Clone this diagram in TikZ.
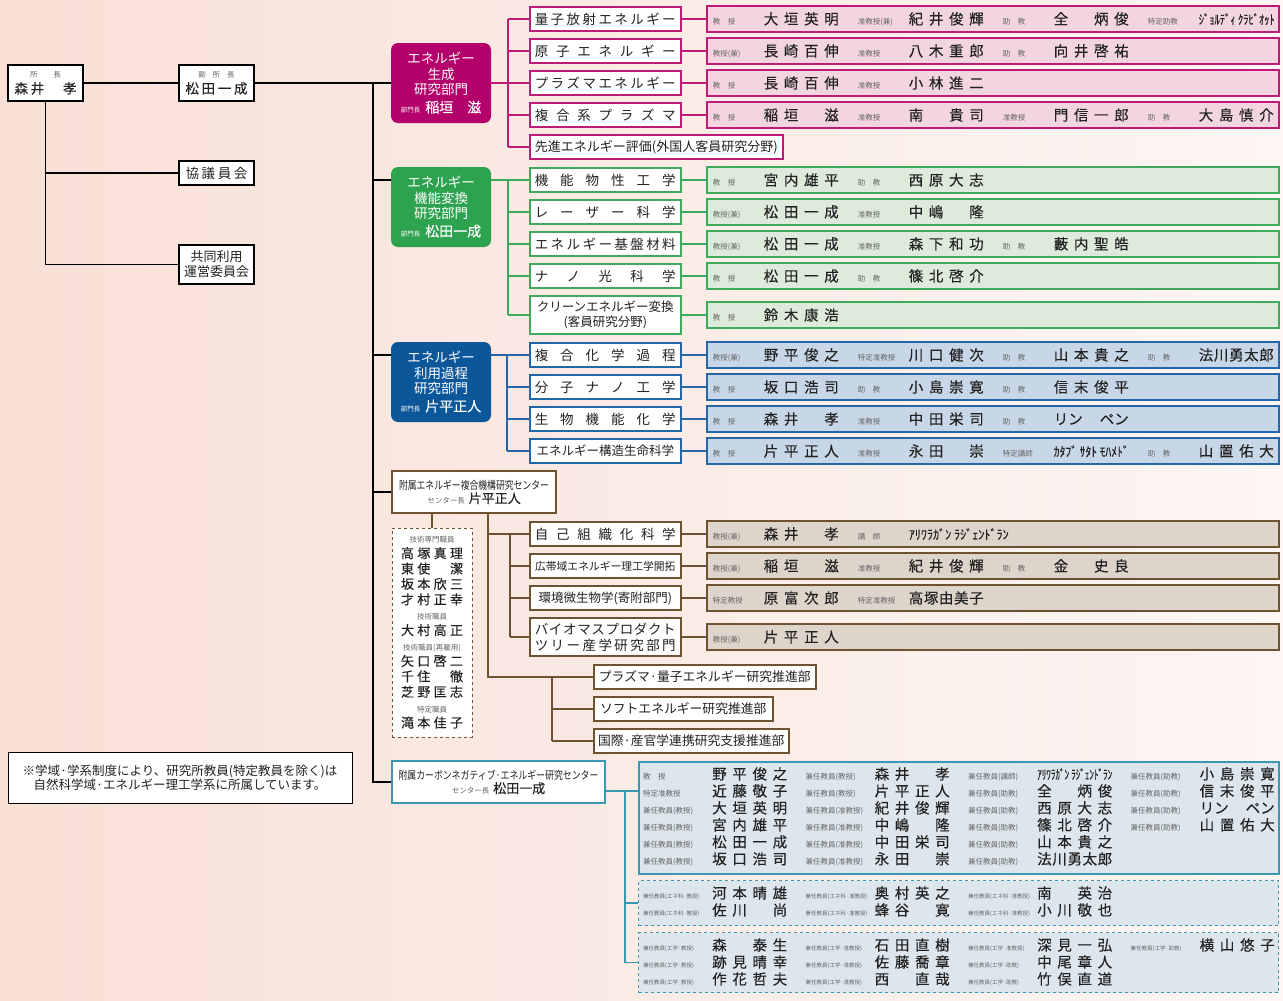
\documentclass[tikz,border=0pt]{standalone}
\usepackage{fontspec}
\setmainfont{Noto Sans CJK JP}
\newfontfamily\nmfam[FakeBold=0.25]{Noto Sans CJK JP}
\usepackage{graphicx}
\usetikzlibrary{calc}
\definecolor{mag}{HTML}{B4006A}
\definecolor{magl}{HTML}{BE1A7A}
\definecolor{magf}{HTML}{F3D4E1}
\definecolor{grn}{HTML}{2EA34F}
\definecolor{grnl}{HTML}{3DAA5C}
\definecolor{grnf}{HTML}{DEEBDB}
\definecolor{blu}{HTML}{0B5799}
\definecolor{blul}{HTML}{2466A8}
\definecolor{bluf}{HTML}{C8D7E7}
\definecolor{brn}{HTML}{6F5232}
\definecolor{brnf}{HTML}{DDD5CA}
\definecolor{tea}{HTML}{3A98B3}
\definecolor{teaf}{HTML}{DCE6EC}
\definecolor{labc}{HTML}{666666}
\definecolor{txt}{HTML}{222222}
\definecolor{bgl}{HTML}{F8E0D6}
\definecolor{bgr}{HTML}{FDF6F4}
\makeatletter
\def\spr@a#1{#1\futurelet\spr@n\spr@b}
\def\spr@b{\ifx\spr@n\spr@e\expandafter\@gobble\else\hfill\expandafter\spr@a\fi}
\def\spr@e{\spr@e}
\newcommand\spw[2]{\makebox[#1][s]{\spr@a#2\spr@e}}
\makeatother
\newcommand\nmf{\nmfam\fontsize{14.5}{16}\selectfont}
\newcommand\nm[1]{{\nmf\spw{75pt}{#1}}}
\newcommand\lab[1]{{\fontsize{7.5}{8}\selectfont\color{labc}#1}}
\newcommand\labs[1]{{\fontsize{5.5}{6}\selectfont\color{labc}#1}}
\newcommand\hwn[2]{{\nmfam\fontsize{13}{13}\selectfont\resizebox{#1}{\height}{#2}}}
\newcommand\lp{{\nmf\makebox[75pt][s]{リン\hfill ペン}}}
\newcommand\mc[2]{\makebox[51pt][l]{\lab{#1}}\nm{#2}\hspace{19pt}}
\newcommand\mcx[2]{\makebox[51pt][l]{\lab{#1}}\makebox[75pt][l]{#2}\hspace{19pt}}
\newcommand\cc[2]{\makebox[69pt][l]{\lab{#1}}\nm{#2}\hspace{18.5pt}}
\newcommand\ccx[2]{\makebox[69pt][l]{\lab{#1}}\makebox[75pt][l]{#2}\hspace{18.5pt}}
\newcommand\cd[2]{\makebox[69pt][l]{\labs{#1}}\nm{#2}\hspace{18.5pt}}
\newcommand\mrow[1]{\hspace{6pt}\makebox[566pt][l]{#1}}
\newcommand\crow[1]{\hspace{5pt}\makebox[635pt][l]{#1}}
\newcommand\tn[1]{{\nmfam\spw{62pt}{#1}}}
\newcommand\sw[1]{\spw{141pt}{#1}}
\tikzset{
 ln/.style={line width=1.4pt, draw=#1},
 divb/.style={fill=#1, rounded corners=7pt, minimum width=100pt, minimum height=80pt, text=white, align=center, inner sep=0pt, font=\fontsize{13.5}{15.5}\selectfont},
 subb/.style={draw=#1, fill=white, line width=1.5pt, minimum width=151pt, minimum height=24pt, inner sep=0pt, anchor=west, font=\fontsize{13.5}{16}\selectfont, text=txt},
 memb/.style 2 args={draw=#1, fill=#2, line width=1.5pt, minimum width=572pt, minimum height=26pt, inner sep=0pt, anchor=west, text=txt},
 blk/.style={draw=black, fill=white, line width=1.3pt, inner sep=0pt, align=center, text=txt},
 rowt/.style={anchor=west, inner sep=0pt, text=txt},
}
\begin{document}
\begin{tikzpicture}[x=1pt,y=-1pt]
\useasboundingbox (0,0) rectangle (1283,1001);
\fill[left color=bgl, right color=bgr] (0,0) rectangle (1283,1001);

% ---- top-left
\node[blk, minimum width=75pt, minimum height=36pt, font=\fontsize{13.5}{15}\selectfont] (pres) at (45.5,83) {\lab{所\hspace{16pt}長}\\[1pt]{\nmfam\spw{62pt}{森井　孝}}};
\node[blk, minimum width=75pt, minimum height=36pt, font=\fontsize{13.5}{15}\selectfont] (vice) at (216.5,83) {\lab{副\hspace{7pt}所\hspace{7pt}長}\\[1pt]{\nmfam\spw{62pt}{松田一成}}};
\node[blk, minimum width=75pt, minimum height=24pt, font=\fontsize{13.5}{15}\selectfont] (council) at (216.5,173) {\spw{62pt}{協議員会}};
\node[blk, minimum width=75pt, minimum height=39pt, font=\fontsize{13}{15}\selectfont] (joint) at (216.5,264.5) {共同利用\\運営委員会};

% ---- divisions
\node[divb=mag] (divGen) at (441,83) {エネルギー\\生成\\研究部門\\[2pt]{\fontsize{6.5}{7}\selectfont 部門長}\hspace{5pt}{\nmfam\fontsize{14}{15}\selectfont 稲垣\hspace{14pt}滋}};
\node[divb=grn] (divFun) at (441,207) {エネルギー\\機能変換\\研究部門\\[2pt]{\fontsize{6.5}{7}\selectfont 部門長}\hspace{5pt}{\nmfam\fontsize{14}{15}\selectfont 松田一成}};
\node[divb=blu] (divUse) at (441,382) {エネルギー\\利用過程\\研究部門\\[2pt]{\fontsize{6.5}{7}\selectfont 部門長}\hspace{5pt}{\nmfam\fontsize{14}{15}\selectfont 片平正人}};

% ---- generation sub boxes
\node[subb=magl] (g1) at (529,19) {\sw{量子放射エネルギー}};
\node[subb=magl] (g2) at (529,51) {\sw{原子エネルギー}};
\node[subb=magl] (g3) at (529,83) {\sw{プラズマエネルギー}};
\node[subb=magl] (g4) at (529,115) {\sw{複合系プラズマ}};
\node[subb=magl, minimum width=253pt, font=\fontsize{13}{15}\selectfont] (g5) at (529,147) {先進エネルギー評価(外国人客員研究分野)};
\node[memb={magl}{magf}] (gm1) at (706,19) {\mrow{\mc{教　授}{大垣英明}\mc{准教授(兼)}{紀井俊輝}\mc{助　教}{全　炳俊}\mcx{特定助教}{\hwn{76pt}{ｼﾞｮﾙﾃﾞｨ ｸﾗﾋﾞｵｯﾄ}}}};
\node[memb={magl}{magf}] (gm2) at (706,51) {\mrow{\mc{教授(兼)}{長崎百伸}\mc{准教授}{八木重郎}\mc{助　教}{向井啓祐}}};
\node[memb={magl}{magf}] (gm3) at (706,83) {\mrow{\mc{教　授}{長崎百伸}\mc{准教授}{小林進二}}};
\node[memb={magl}{magf}] (gm4) at (706,115) {\mrow{\mc{教　授}{稲垣　滋}\mc{准教授}{南　貴司}\mc{准教授}{門信一郎}\mc{助　教}{大島慎介}}};

% ---- function sub boxes
\node[subb=grnl] (f1) at (529,180) {\sw{機能物性工学}};
\node[subb=grnl] (f2) at (529,212) {\sw{レーザー科学}};
\node[subb=grnl] (f3) at (529,244) {\sw{エネルギー基盤材料}};
\node[subb=grnl] (f4) at (529,276) {\sw{ナノ光科学}};
\node[subb=grnl, minimum height=38pt, align=center, font=\fontsize{12.5}{15}\selectfont] (f5) at (529,315) {クリーンエネルギー変換\\(客員研究分野)};
\node[memb={grnl}{grnf}] (fm1) at (706,180) {\mrow{\mc{教　授}{宮内雄平}\mc{助　教}{西原大志}}};
\node[memb={grnl}{grnf}] (fm2) at (706,212) {\mrow{\mc{教授(兼)}{松田一成}\mc{准教授}{中嶋　隆}}};
\node[memb={grnl}{grnf}] (fm3) at (706,244) {\mrow{\mc{教授(兼)}{松田一成}\mc{准教授}{森下和功}\mc{助　教}{藪内聖皓}}};
\node[memb={grnl}{grnf}] (fm4) at (706,276) {\mrow{\mc{教　授}{松田一成}\mc{助　教}{篠北啓介}}};
\node[memb={grnl}{grnf}] (fm5) at (706,315) {\mrow{\mc{教　授}{鈴木康浩}}};

% ---- use sub boxes
\node[subb=blul] (u1) at (529,355) {\sw{複合化学過程}};
\node[subb=blul] (u2) at (529,387) {\sw{分子ナノ工学}};
\node[subb=blul] (u3) at (529,419) {\sw{生物機能化学}};
\node[subb=blul, font=\fontsize{12.5}{14}\selectfont] (u4) at (529,451) {エネルギー構造生命科学};
\node[memb={blul}{bluf}] (um1) at (706,355) {\mrow{\mc{教授(兼)}{野平俊之}\mc{特定准教授}{川口健次}\mc{助　教}{山本貴之}\mc{助　教}{法川勇太郎}}};
\node[memb={blul}{bluf}] (um2) at (706,387) {\mrow{\mc{教　授}{坂口浩司}\mc{助　教}{小島崇寛}\mc{助　教}{信末俊平}}};
\node[memb={blul}{bluf}] (um3) at (706,419) {\mrow{\mc{教　授}{森井　孝}\mc{准教授}{中田栄司}\mcx{助　教}{\lp}}};
\node[memb={blul}{bluf}] (um4) at (706,451) {\mrow{\mc{教　授}{片平正人}\mc{准教授}{永田　崇}\mcx{特定講師}{\hwn{75pt}{ｶﾀﾌﾞ ｻﾀﾄ ﾓﾊﾒﾄﾞ}}\mc{助　教}{山置佑大}}};

% ---- complex center
\node[draw=brn, fill=white, line width=1.5pt, minimum width=164pt, minimum height=42pt, align=center, inner sep=0pt, text=txt] (cx) at (474,492) {\resizebox{150pt}{\height}{\fontsize{11}{12}\selectfont 附属エネルギー複合機構研究センター}\\[2pt]\lab{センター長}\hspace{4pt}{\nmfam\fontsize{13}{14}\selectfont 片平正人}};
\node[draw=brn, dashed, fill=white, line width=1pt, minimum width=80pt, minimum height=209pt, align=center, inner sep=0pt, text=txt, font=\fontsize{13}{15.4}\selectfont] (tech) at (432,632.5) {\lab{技術専門職員}\\\tn{高塚真理}\\\tn{東使　潔}\\\tn{坂本欣三}\\\tn{才村正幸}\\\lab{技術職員}\\\tn{大村高正}\\\lab{技術職員(再雇用)}\\\tn{矢口啓二}\\\tn{千住　徹}\\\tn{芝野匡志}\\\lab{特定職員}\\\tn{滝本佳子}};
\node[subb=brn] (s1) at (529,534) {\sw{自己組織化科学}};
\node[subb=brn, font=\fontsize{10.8}{12}\selectfont] (s2) at (529,566) {広帯域エネルギー理工学開拓};
\node[subb=brn, font=\fontsize{12.5}{14}\selectfont] (s3) at (529,598) {環境微生物学(寄附部門)};
\node[subb=brn, minimum height=38pt, align=center, font=\fontsize{13.5}{16}\selectfont] (s4) at (529,637) {\sw{バイオマスプロダクト}\\\sw{ツリー産学研究部門}};
\node[memb={brn}{brnf}] (sm1) at (706,534) {\mrow{\mc{教授(兼)}{森井　孝}\mcx{講　師}{\hwn{100pt}{ｱﾘﾜﾗｶﾞﾝ ﾗｼﾞｪﾝﾄﾞﾗﾝ}}}};
\node[memb={brn}{brnf}] (sm2) at (706,566) {\mrow{\mc{教授(兼)}{稲垣　滋}\mc{准教授}{紀井俊輝}\mc{助　教}{金　史良}}};
\node[memb={brn}{brnf}] (sm3) at (706,598) {\mrow{\mc{特定教授}{原富次郎}\mc{特定准教授}{高塚由美子}}};
\node[memb={brn}{brnf}] (sm4) at (706,637) {\mrow{\mc{教授(兼)}{片平正人}}};
\node[subb=brn, minimum width=222pt, font=\fontsize{12.8}{15}\selectfont] (p1) at (593,677) {プラズマ·量子エネルギー研究推進部};
\node[subb=brn, minimum width=179pt, font=\fontsize{12.8}{15}\selectfont] (p2) at (593,709) {ソフトエネルギー研究推進部};
\node[subb=brn, minimum width=195pt, font=\fontsize{12.8}{15}\selectfont] (p3) at (593,741) {国際·産官学連携研究支援推進部};

% ---- note
\node[blk, line width=1pt, minimum width=344pt, minimum height=51pt, font=\fontsize{12.5}{14.5}\selectfont] (note) at (180,777.5) {※学域·学系制度により、研究所教員(特定教員を除く)は\\自然科学域·エネルギー理工学系に所属しています。};

% ---- carbon center
\node[draw=tea, fill=white, line width=1.5pt, minimum width=213pt, minimum height=42pt, align=center, inner sep=0pt, text=txt] (cb) at (498.5,782) {\resizebox{200pt}{\height}{\fontsize{11}{12}\selectfont 附属カーボンネガティブ·エネルギー研究センター}\\[2pt]\lab{センター長}\hspace{4pt}{\nmfam\fontsize{13}{14}\selectfont 松田一成}};
\node[draw=tea, fill=teaf, line width=1.5pt, minimum width=640pt, minimum height=112pt, anchor=north west, inner sep=0pt] (cm) at (638,761) {};
\node[draw=tea, fill=teaf, dashed, line width=1.2pt, minimum width=640pt, minimum height=45pt, anchor=north west, inner sep=0pt] (da) at (638,880) {};
\node[draw=tea, fill=teaf, dashed, line width=1.2pt, minimum width=640pt, minimum height=60pt, anchor=north west, inner sep=0pt] (db) at (638,932) {};
\node[rowt] (cr1) at (638,774) {\crow{\cc{教　授}{野平俊之}\cc{兼任教員(教授)}{森井　孝}\ccx{兼任教員(講師)}{\hwn{75pt}{ｱﾘﾜﾗｶﾞﾝ ﾗｼﾞｪﾝﾄﾞﾗﾝ}}\cc{兼任教員(助教)}{小島崇寛}}};
\node[rowt] (cr2) at (638,791) {\crow{\cc{特定准教授}{近藤敬子}\cc{兼任教員(教授)}{片平正人}\cc{兼任教員(助教)}{全　炳俊}\cc{兼任教員(助教)}{信末俊平}}};
\node[rowt] (cr3) at (638,808) {\crow{\cc{兼任教員(教授)}{大垣英明}\cc{兼任教員(准教授)}{紀井俊輝}\cc{兼任教員(助教)}{西原大志}\ccx{兼任教員(助教)}{\lp}}};
\node[rowt] (cr4) at (638,825) {\crow{\cc{兼任教員(教授)}{宮内雄平}\cc{兼任教員(准教授)}{中嶋　隆}\cc{兼任教員(助教)}{篠北啓介}\cc{兼任教員(助教)}{山置佑大}}};
\node[rowt] (cr5) at (638,842) {\crow{\cc{兼任教員(教授)}{松田一成}\cc{兼任教員(准教授)}{中田栄司}\cc{兼任教員(助教)}{山本貴之}}};
\node[rowt] (cr6) at (638,859) {\crow{\cc{兼任教員(教授)}{坂口浩司}\cc{兼任教員(准教授)}{永田　崇}\cc{兼任教員(助教)}{法川勇太郎}}};
\node[rowt] (da1) at (638,893) {\crow{\cd{兼任教員(エネ科·教授)}{河本晴雄}\cd{兼任教員(エネ科·准教授)}{奥村英之}\cd{兼任教員(エネ科·准教授)}{南　英治}}};
\node[rowt] (da2) at (638,910) {\crow{\cd{兼任教員(エネ科·教授)}{佐川　尚}\cd{兼任教員(エネ科·准教授)}{蜂谷　寛}\cd{兼任教員(エネ科·准教授)}{小川敬也}}};
\node[rowt] (db1) at (638,945) {\crow{\cd{兼任教員(工学·教授)}{森　泰生}\cd{兼任教員(工学·准教授)}{石田直樹}\cd{兼任教員(工学·准教授)}{深見一弘}\cd{兼任教員(工学·助教)}{横山悠子}}};
\node[rowt] (db2) at (638,962) {\crow{\cd{兼任教員(工学·教授)}{跡見晴幸}\cd{兼任教員(工学·准教授)}{佐藤喬章}\cd{兼任教員(工学·助教)}{中尾章人}}};
\node[rowt] (db3) at (638,979) {\crow{\cd{兼任教員(工学·教授)}{作花哲夫}\cd{兼任教員(工学·准教授)}{西　直哉}\cd{兼任教員(工学·助教)}{竹俣直道}}};

% ---- connectors: main tree
\coordinate (mt) at (373,83);
\coordinate (mb) at (373,782);
\draw[ln=black] (pres.east) -- (vice.west);
\draw[ln=black] (vice.east) -- (divGen.west);
\draw[ln=black] (pres.south) -- (pres.south |- joint.west) -- (joint.west);
\draw[ln=black] (pres.south |- council.west) -- (council.west);
\draw[ln=black] (mt) -- (mb) -- (cb.west);
\draw[ln=black] (mt |- f1) -- (divFun.west |- f1);
\draw[ln=black] (mt |- u1) -- (divUse.west |- u1);
\draw[ln=black] (mt |- cx) -- (cx.west);

% generation
\coordinate (gbr) at (508,83);
\draw[ln=magl] (divGen.east) -- (gbr);
\draw[ln=magl] (g1.west -| gbr) -- (g5.west -| gbr);
\foreach \i in {1,...,5} \draw[ln=magl] (g\i.west -| gbr) -- (g\i.west);
\foreach \i in {1,...,4} \draw[ln=magl] (g\i.east) -- (gm\i.west);
% function
\coordinate (fbr) at (508,180);
\draw[ln=grnl] (divFun.east |- f1) -- (f1.west);
\draw[ln=grnl] (f1.west -| fbr) -- (f5.west -| fbr);
\foreach \i in {2,...,5} \draw[ln=grnl] (f\i.west -| fbr) -- (f\i.west);
\foreach \i in {1,...,5} \draw[ln=grnl] (f\i.east) -- (fm\i.west);
% use
\coordinate (ubr) at (507,355);
\draw[ln=blul] (divUse.east |- u1) -- (u1.west);
\draw[ln=blul] (u1.west -| ubr) -- (u4.west -| ubr);
\foreach \i in {2,...,4} \draw[ln=blul] (u\i.west -| ubr) -- (u\i.west);
\foreach \i in {1,...,4} \draw[ln=blul] (u\i.east) -- (um\i.west);
% complex
\coordinate (cxa) at (488,513);
\coordinate (sbr) at (510,534);
\coordinate (pbr) at (552,677);
\draw[ln=brn] (tech.north) -- (tech.north |- cx.south);
\draw[ln=brn] (cxa) |- (p1.west);
\draw[ln=brn] (s1.west -| cxa) -- (s1.west);
\draw[ln=brn] (sbr) -- (s4.west -| sbr);
\foreach \i in {2,...,4} \draw[ln=brn] (s\i.west -| sbr) -- (s\i.west);
\foreach \i in {1,...,4} \draw[ln=brn] (s\i.east) -- (sm\i.west);
\draw[ln=brn] (pbr) -- (p3.west -| pbr);
\draw[ln=brn] (p2.west -| pbr) -- (p2.west);
\draw[ln=brn] (p3.west -| pbr) -- (p3.west);
% carbon
\coordinate (cbj) at (625,791);
\draw[ln=tea] (cb.east |- cbj) -- (cm.west |- cbj);
\draw[ln=tea] (cbj) |- (db.west);
\draw[ln=tea] (da.west -| cbj) -- (da.west);
\end{tikzpicture}
\end{document}
